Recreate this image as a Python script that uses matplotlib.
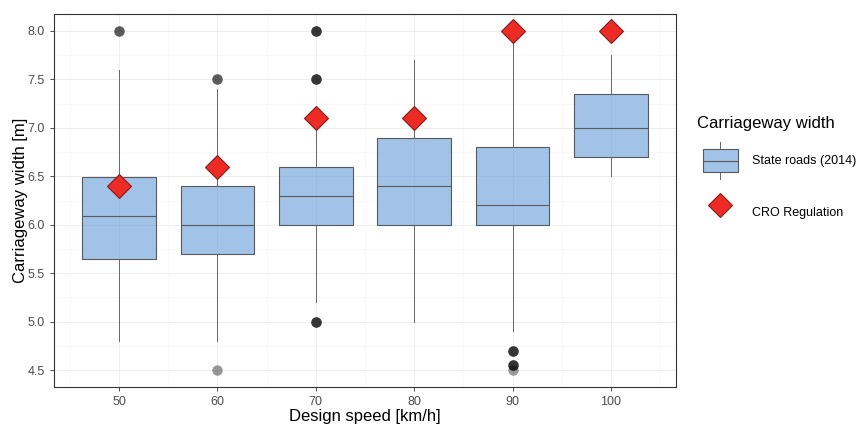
import numpy as np
import matplotlib.pyplot as plt
from matplotlib.legend_handler import HandlerBase
from matplotlib.patches import Rectangle, Patch
from matplotlib.lines import Line2D

plt.rcParams['font.family'] = ['Liberation Sans', 'DejaVu Sans']

# design speeds [km/h]
speeds = [50, 60, 70, 80, 90, 100]

# box statistics (State roads 2014)
q1 = [5.65, 5.70, 6.00, 6.00, 6.00, 6.70]
med = [6.09, 6.00, 6.30, 6.40, 6.20, 7.00]
q3 = [6.49, 6.40, 6.60, 6.90, 6.80, 7.35]
whis_lo = [4.80, 4.80, 5.20, 5.00, 4.90, 6.50]
whis_hi = [7.60, 7.40, 7.00, 7.70, 8.00, 7.75]
outliers = [
    [8.0, 8.0],
    [7.5, 7.5, 4.5],
    [8.0, 8.0, 8.0, 7.5, 7.5, 7.5, 5.0, 5.0, 5.0],
    [],
    [4.7, 4.7, 4.7, 4.55, 4.55, 4.55, 4.5],
    [],
]

# CRO regulation values
cro = [6.4, 6.6, 7.1, 7.1, 8.0, 8.0]

box_face = (0.37, 0.6, 0.85, 0.58)
box_edge = '#595959'
red = '#ee2a24'
red_edge = '#8b1a1a'

fig = plt.figure(figsize=(8.61, 4.28), dpi=100)
ax = fig.add_axes([54/861, 41/428, 622/861, 373/428])

stats = []
for i in range(len(speeds)):
    stats.append(dict(q1=q1[i], med=med[i], q3=q3[i], whislo=whis_lo[i],
                      whishi=whis_hi[i], fliers=outliers[i]))

ax.bxp(stats, positions=speeds, widths=7.5, patch_artist=True,
       showcaps=False, manage_ticks=False, zorder=3,
       boxprops=dict(facecolor=box_face, edgecolor=box_edge, linewidth=0.8),
       medianprops=dict(color=box_edge, linewidth=0.8),
       whiskerprops=dict(color='#666666', linewidth=0.7),
       flierprops=dict(marker='o', markersize=7.5, markerfacecolor='black',
                       markeredgecolor='none', alpha=0.4))

ax.plot(speeds, cro, linestyle='none', marker='D', markersize=12,
        markerfacecolor=red, markeredgecolor=red_edge, markeredgewidth=0.8,
        zorder=5)

ax.set_xlim(43.375, 106.625)
ax.set_ylim(4.325, 8.175)
ax.set_xticks(speeds)
yt = np.arange(4.5, 8.01, 0.5)
ax.set_yticks(yt)
ax.set_yticklabels([f'{v:.1f}' for v in yt])
ax.set_xticks(np.arange(45, 106, 10), minor=True)
ax.set_yticks(np.arange(4.75, 8.0, 0.5), minor=True)
ax.grid(True, which='major', color='#ebebeb', linewidth=0.6, zorder=0)
ax.grid(True, which='minor', color='#f5f5f5', linewidth=0.4, zorder=0)
ax.set_axisbelow(True)
ax.tick_params(which='major', labelsize=9, labelcolor='#4d4d4d',
               color='#333333', length=3, width=0.6)
ax.tick_params(which='minor', length=0)
for s in ax.spines.values():
    s.set_color('#333333')
    s.set_linewidth(0.8)

ax.set_xlabel('Design speed [km/h]', fontsize=12, labelpad=1)
ax.set_ylabel('Carriageway width [m]', fontsize=12, labelpad=0)


class BoxHandler(HandlerBase):
    def create_artists(self, legend, orig_handle, xdescent, ydescent,
                       width, height, fontsize, trans):
        x0, y0 = -xdescent, -ydescent
        bw = 25.2
        bx = x0 + (width - bw) / 2
        bh = height * 0.62
        by = y0 + (height - bh) / 2
        rect = Rectangle((bx, by), bw, bh, facecolor=box_face,
                         edgecolor=box_edge, linewidth=0.8, transform=trans)
        cx = x0 + width / 2
        wl = Line2D([cx, cx], [y0, by], color='#666666', lw=0.7,
                    transform=trans)
        wh = Line2D([cx, cx], [by + bh, y0 + height], color='#666666',
                    lw=0.7, transform=trans)
        md = Line2D([bx, bx + bw], [y0 + height / 2] * 2, color=box_edge,
                    lw=0.8, transform=trans)
        return [wl, wh, rect, md]


box_handle = Patch(facecolor=box_face)
dia_handle = Line2D([], [], linestyle='none', marker='D', markersize=12,
                    markerfacecolor=red, markeredgecolor=red_edge,
                    markeredgewidth=0.8)

leg = fig.legend([box_handle, dia_handle],
                 ['State roads (2014)', 'CRO Regulation'],
                 handler_map={Patch: BoxHandler()},
                 title='Carriageway width', title_fontsize=12, fontsize=9,
                 loc='upper left', bbox_to_anchor=(691/861, 1 - 110/428),
                 frameon=False, borderpad=0, handlelength=3.7,
                 handleheight=4.17, labelspacing=1.2, handletextpad=0.72,
                 alignment='left')
leg._legend_box.sep = 8

fig.savefig('out.png', dpi=100)
